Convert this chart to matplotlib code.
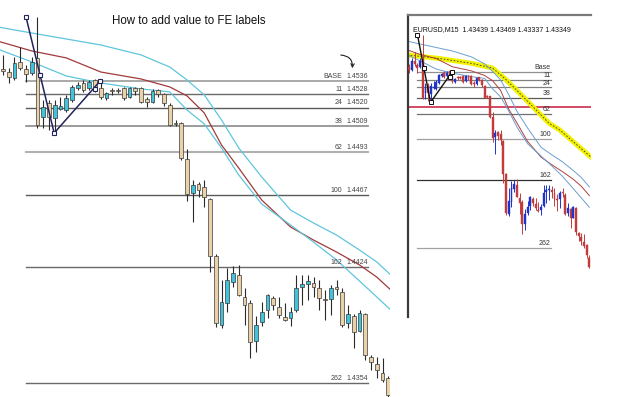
import matplotlib
matplotlib.use('Agg')
import matplotlib.pyplot as plt
import numpy as np

# EURUSD M15 bars (bar 0 = left edge of the big chart)
opens = [1.45432, 1.45414, 1.45378, 1.45475, 1.45432, 1.45408, 1.45499, 1.45143, 1.45227, 1.45137,
         1.45191, 1.45185, 1.45245, 1.45318, 1.45348, 1.45318, 1.45366, 1.45318, 1.45257, 1.45306,
         1.45306, 1.45318, 1.45264, 1.45318, 1.45318, 1.45251, 1.45233, 1.45306, 1.45282, 1.45215,
         1.45107, 1.45107, 1.44890, 1.44685, 1.44739, 1.44721, 1.44648, 1.44305, 1.43889, 1.44021,
         1.44148, 1.44190, 1.44058, 1.44021, 1.43792, 1.43907, 1.43979, 1.44052, 1.43997, 1.43937,
         1.43931, 1.43979, 1.44118, 1.44136, 1.44142, 1.44112, 1.44045, 1.44045, 1.44118, 1.44088,
         1.43901, 1.43943, 1.43853, 1.43955, 1.43696, 1.43654, 1.43599, 1.43569, 1.43439]
highs = [1.45517, 1.45438, 1.45505, 1.45565, 1.45457, 1.45505, 1.45746, 1.45245, 1.45245, 1.45245,
         1.45264, 1.45276, 1.45336, 1.45354, 1.45366, 1.45366, 1.45372, 1.45354, 1.45294, 1.45318,
         1.45318, 1.45324, 1.45324, 1.45324, 1.45324, 1.45264, 1.45312, 1.45312, 1.45288, 1.45227,
         1.45125, 1.45113, 1.44950, 1.44763, 1.44751, 1.44763, 1.44655, 1.44317, 1.44160, 1.44232,
         1.44244, 1.44251, 1.44112, 1.44039, 1.43943, 1.44027, 1.44076, 1.44064, 1.44058, 1.44021,
         1.43997, 1.44190, 1.44190, 1.44190, 1.44178, 1.44160, 1.44100, 1.44130, 1.44160, 1.44112,
         1.44009, 1.43955, 1.43979, 1.43961, 1.43708, 1.43696, 1.43690, 1.43581, 1.43469]
lows = [1.45396, 1.45348, 1.45366, 1.45426, 1.45354, 1.45396, 1.45077, 1.45077, 1.45065, 1.45046,
        1.45185, 1.45173, 1.45233, 1.45306, 1.45294, 1.45306, 1.45294, 1.45251, 1.45245, 1.45276,
        1.45288, 1.45245, 1.45257, 1.45276, 1.45227, 1.45203, 1.45227, 1.45264, 1.45209, 1.45089,
        1.45089, 1.44884, 1.44636, 1.44510, 1.44661, 1.44600, 1.44208, 1.43877, 1.43871, 1.43967,
        1.44118, 1.44064, 1.43889, 1.43690, 1.43726, 1.43883, 1.43931, 1.43979, 1.43931, 1.43913,
        1.43883, 1.43967, 1.44009, 1.44039, 1.44058, 1.43979, 1.43919, 1.43949, 1.44070, 1.43877,
        1.43871, 1.43750, 1.43847, 1.43678, 1.43617, 1.43569, 1.43545, 1.43436, 1.43337]
closes = [1.45420, 1.45384, 1.45469, 1.45438, 1.45402, 1.45475, 1.45095, 1.45203, 1.45143, 1.45215,
          1.45209, 1.45257, 1.45324, 1.45336, 1.45306, 1.45354, 1.45318, 1.45264, 1.45288, 1.45300,
          1.45300, 1.45257, 1.45318, 1.45300, 1.45233, 1.45233, 1.45300, 1.45282, 1.45227, 1.45095,
          1.45101, 1.44896, 1.44679, 1.44733, 1.44703, 1.44661, 1.44305, 1.43901, 1.44027, 1.44160,
          1.44202, 1.44070, 1.44009, 1.43786, 1.43889, 1.43967, 1.44070, 1.44009, 1.43949, 1.43919,
          1.43967, 1.44112, 1.44136, 1.44154, 1.44118, 1.44052, 1.44039, 1.44112, 1.44106, 1.43889,
          1.43955, 1.43847, 1.43961, 1.43708, 1.43666, 1.43617, 1.43557, 1.43467, 1.43349]

# moving average envelope, sampled at these bars
ma_bars = [-1, 5, 11, 17, 24, 29, 32, 35, 38, 41, 45, 50, 54, 58, 62, 65, 68]
ma_upper = [1.45686, 1.45649, 1.45613, 1.45577, 1.45517, 1.45444, 1.45366, 1.45276, 1.45125,
            1.44956, 1.44781, 1.44582, 1.44504, 1.44431, 1.44341, 1.44269, 1.44172]
ma_mid = [1.45601, 1.45541, 1.45499, 1.45414, 1.45372, 1.45324, 1.45270, 1.45167, 1.44974,
          1.44835, 1.44642, 1.44480, 1.44401, 1.44329, 1.44251, 1.44178, 1.44082]
ma_lower = [1.45553, 1.45475, 1.45390, 1.45348, 1.45312, 1.45294, 1.45185, 1.45101, 1.44956,
            1.44793, 1.44618, 1.44492, 1.44389, 1.44281, 1.44154, 1.44058, 1.43961]

# slow MA (yellow) only on the small chart
slow_bars = [-1, 12, 24, 32, 37, 41, 47, 53, 57, 69]
slow_ma = [1.4554, 1.4550, 1.4545, 1.4540, 1.4528, 1.4517, 1.4500, 1.4483, 1.4476, 1.4447]

# FE tool points
zz_bars = [4.0, 8.9, 16.9]
zz_prices = [1.45746, 1.45046, 1.4536]
mark_bars = [4.0, 6.45, 8.9, 16.0, 16.9]
mark_prices = [1.45746, 1.45396, 1.45046, 1.45312, 1.4536]

fe_names = ['BASE', '11', '24', '38', '62', '100', '162', '262']
fe_names_small = ['Base', '11', '24', '38', '62', '100', '162', '262']
fe_values = [1.4536, 1.4528, 1.4520, 1.4509, 1.4493, 1.4467, 1.4424, 1.4354]
hline_price = 1.4500

# line colours of the FE levels
big_colors = ['#a9a9a9', '#6a6a6a', '#5a5a5a', '#8a8a8a', '#b0b0b0', '#5a5a5a', '#6a6a6a', '#6a6a6a']
big_widths = [1.4, 1.0, 1.0, 1.2, 1.5, 1.0, 1.0, 1.0]
small_colors = ['#909090', '#808080', '#808080', '#5a5a5a', '#707070', '#a0a0a0', '#303030', '#a0a0a0']

FONT = 'Liberation Sans'

fig = plt.figure(figsize=(6.25, 3.97), dpi=100)
fig.patch.set_facecolor('white')

bars = np.arange(len(opens))
o = np.array(opens); h = np.array(highs); l = np.array(lows); c = np.array(closes)
up = c >= o
body_bottom = np.minimum(o, c)
body_height = np.maximum(np.abs(c - o), 0.00003)

# ---------------- big chart ----------------
ax = fig.add_axes([0, 0, 390 / 625, 1])
ax.set_xlim(-0.52, 67.3)
ax.set_ylim(1.43455, 1.45848)
ax.axis('off')

for name, val, col, lw in zip(fe_names, fe_values, big_colors, big_widths):
    ax.plot([zz_bars[0], 63.5], [val, val], color=col, lw=lw, zorder=1)
    ax.annotate(name, (59.0, val), xytext=(0, 0.8), textcoords='offset points',
                ha='right', va='bottom', fontsize=5, color='#444444', family=FONT)
    ax.annotate('%.4f' % val, (63.5, val), xytext=(0, 0.8), textcoords='offset points',
                ha='right', va='bottom', fontsize=5, color='#444444', family=FONT)

ax.plot(ma_bars, ma_upper, color='#5ec6dc', lw=0.9, zorder=2)
ax.plot(ma_bars, ma_mid, color='#a33a3a', lw=0.9, zorder=2)
ax.plot(ma_bars, ma_lower, color='#5ec6dc', lw=0.9, zorder=2)

ax.vlines(bars, l, h, colors='#2a2a2a', lw=0.8, zorder=3)
ax.bar(bars, body_height, bottom=body_bottom, width=0.68,
       color=np.where(up, '#3fc4dc', '#ebd1a8'), edgecolor='#3a3a3a', linewidth=0.5, zorder=4)

ax.plot(zz_bars, zz_prices, color='#23235e', lw=1.1, zorder=5)
ax.plot(mark_bars, mark_prices, ls='none', marker='s', ms=3, mfc='white',
        mec='#23235e', mew=0.8, zorder=6)

# ---------------- small chart ----------------
ax2 = fig.add_axes([408 / 625, 80 / 397, 183 / 625, 302 / 397])
ax2.set_xlim(0.5, 68.6)
ax2.set_ylim(1.42827, 1.45949)
ax2.set_xticks([])
ax2.set_yticks([])
for s in ['right', 'bottom']:
    ax2.spines[s].set_visible(False)
ax2.spines['top'].set_color('#7a7a7a')
ax2.spines['top'].set_linewidth(1.6)
ax2.spines['left'].set_color('#3a3a3a')
ax2.spines['left'].set_linewidth(1.6)

for name, val, col in zip(fe_names_small, fe_values, small_colors):
    ax2.plot([zz_bars[0], 53.7], [val, val], color=col, lw=0.9, zorder=1)
    ax2.annotate(name, (53.7, val), xytext=(0, 0.6), textcoords='offset points',
                 ha='right', va='bottom', fontsize=5, color='#333333', family=FONT)
ax2.axhline(hline_price, color='#c8183c', lw=1.1, zorder=1)

ax2.plot(slow_bars, slow_ma, color='#f2f200', lw=3.6, solid_capstyle='round', zorder=2)
ax2.plot(slow_bars, slow_ma, color='#3a3a3a', lw=0.6, dashes=(2, 2), zorder=2)
ax2.plot(ma_bars, ma_upper, color='#6b9fcf', lw=0.7, zorder=2)
ax2.plot(ma_bars, ma_mid, color='#b04040', lw=0.7, zorder=2)
ax2.plot(ma_bars, ma_lower, color='#6b9fcf', lw=0.7, zorder=2)

cols = np.where(up, '#1f34c8', '#c23c3c')
ax2.vlines(bars, l, h, colors=cols, lw=0.7, zorder=3)
ax2.bar(bars, body_height, bottom=body_bottom, width=0.7, color=cols,
        edgecolor=cols, linewidth=0.3, zorder=4)

ax2.plot(zz_bars, zz_prices, color='#111111', lw=1.0, zorder=5)
ax2.plot(mark_bars, mark_prices, ls='none', marker='s', ms=2.6, mfc='white',
         mec='#111111', mew=0.7, zorder=6)

header = 'EURUSD,M15  %.5f %.5f %.5f %.5f' % (opens[-1], highs[-1], lows[-1], closes[-1])
ax2.text(0.025, 0.965, header, transform=ax2.transAxes, ha='left', va='top',
         fontsize=5, color='#111111', family=FONT)

# ---------------- title and hand drawn arrow ----------------
fig.text(112 / 625, 1 - 24 / 397, 'How to add value to FE labels', ha='left',
         va='baseline', fontsize=8.3, family=FONT, color='#111111')
ax.annotate('', xy=(352, 397 - 71), xytext=(338, 397 - 55), xycoords='figure pixels',
            textcoords='figure pixels',
            arrowprops=dict(arrowstyle='->', connectionstyle='arc3,rad=-0.6',
                            color='#222222', lw=0.8, mutation_scale=6))

fig.savefig('out.png', dpi=100, facecolor='white')
